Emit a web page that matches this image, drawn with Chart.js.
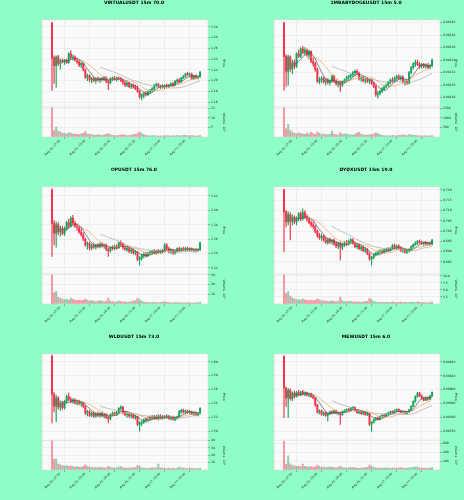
<!DOCTYPE html>
<html>
<head>
<meta charset="utf-8">
<script src="https://cdn.jsdelivr.net/npm/chart.js@4.4.1/dist/chart.umd.min.js"></script>
<style>
  html, body { margin: 0; padding: 0; background: #8ffdc6; }
  #wrap { position: relative; width: 464px; height: 500px; overflow: hidden; }
  canvas { position: absolute; }
</style>
</head>
<body>
<div id="wrap">
  <canvas id="c0" width="232" height="167" style="left:0;top:0"></canvas>
  <canvas id="c1" width="232" height="167" style="left:232px;top:0"></canvas>
  <canvas id="c2" width="232" height="167" style="left:0;top:167px"></canvas>
  <canvas id="c3" width="232" height="167" style="left:232px;top:167px"></canvas>
  <canvas id="c4" width="232" height="166" style="left:0;top:334px"></canvas>
  <canvas id="c5" width="232" height="166" style="left:232px;top:334px"></canvas>
</div>
<script>
// x tick positions (candle index) and their labels, 12 candles = 3h
const tickIdx = [0, 12, 24, 36, 48, 60, 72];
const timeLabels = ['Aug 16, 12:00', 'Aug 16, 15:00', 'Aug 16, 18:00', 'Aug 16, 21:00', 'Aug 17, 00:00', 'Aug 17, 03:00', ''];
const maWindows = [6, 12, 24];

// candles: [open, high, low, close]
const virtualCandles = [
  [1.307,1.309,1.182,1.242],[1.242,1.246,1.195,1.228],[1.228,1.246,1.188,1.244],[1.244,1.247,1.228,1.232],
  [1.232,1.240,1.222,1.237],[1.237,1.241,1.233,1.235],[1.235,1.240,1.230,1.238],[1.238,1.240,1.232,1.234],
  [1.234,1.252,1.232,1.250],[1.250,1.256,1.240,1.243],[1.243,1.248,1.238,1.244],[1.244,1.246,1.236,1.238],
  [1.238,1.242,1.232,1.235],[1.235,1.238,1.226,1.229],[1.229,1.234,1.224,1.232],[1.232,1.233,1.218,1.220],
  [1.220,1.222,1.204,1.206],[1.206,1.212,1.200,1.209],[1.209,1.211,1.198,1.202],[1.202,1.206,1.196,1.204],
  [1.204,1.206,1.198,1.200],[1.200,1.205,1.195,1.203],[1.203,1.207,1.199,1.201],[1.201,1.205,1.196,1.204],
  [1.204,1.206,1.199,1.202],[1.202,1.208,1.200,1.206],[1.206,1.207,1.196,1.198],[1.198,1.201,1.183,1.196],
  [1.196,1.205,1.194,1.204],[1.204,1.207,1.200,1.205],[1.205,1.208,1.201,1.203],[1.203,1.206,1.199,1.205],
  [1.205,1.207,1.202,1.204],[1.204,1.206,1.198,1.200],[1.200,1.203,1.193,1.196],[1.196,1.198,1.189,1.192],
  [1.192,1.197,1.189,1.195],[1.195,1.197,1.187,1.189],[1.189,1.193,1.185,1.191],[1.191,1.194,1.186,1.188],
  [1.188,1.192,1.183,1.185],[1.185,1.190,1.178,1.180],[1.180,1.182,1.167,1.170],[1.170,1.176,1.164,1.173],
  [1.173,1.178,1.168,1.176],[1.176,1.180,1.171,1.174],[1.174,1.181,1.172,1.179],[1.179,1.184,1.176,1.182],
  [1.182,1.187,1.179,1.185],[1.185,1.193,1.183,1.191],[1.191,1.196,1.188,1.193],[1.193,1.195,1.187,1.189],
  [1.189,1.192,1.185,1.190],[1.190,1.193,1.186,1.188],[1.188,1.192,1.185,1.191],[1.191,1.194,1.188,1.190],
  [1.190,1.193,1.187,1.192],[1.192,1.196,1.190,1.194],[1.194,1.197,1.189,1.191],[1.191,1.200,1.190,1.199],
  [1.199,1.203,1.196,1.201],[1.201,1.204,1.196,1.198],[1.198,1.206,1.197,1.205],[1.205,1.210,1.203,1.208],
  [1.208,1.214,1.206,1.213],[1.213,1.216,1.209,1.211],[1.211,1.214,1.207,1.212],[1.212,1.214,1.202,1.204],
  [1.204,1.210,1.202,1.208],[1.208,1.211,1.203,1.205],[1.205,1.209,1.203,1.207],[1.207,1.217,1.206,1.216]
];
const virtualVolume = [15.5,3.3,5.2,3.0,2.6,2.0,1.8,1.6,2.2,2.0,1.6,1.5,1.3,1.4,1.6,2.0,2.8,1.5,1.4,1.2,1.0,0.9,1.3,1.0,
  0.8,1.1,1.4,1.9,1.2,0.9,0.8,0.7,0.8,1.0,1.2,0.9,0.7,0.8,1.0,1.3,1.4,1.8,2.6,1.9,1.2,0.8,0.7,0.6,
  0.7,0.8,0.6,0.5,0.6,0.5,0.6,0.7,0.6,0.5,0.7,0.6,0.8,0.7,0.6,0.8,0.9,0.7,0.6,0.8,0.6,0.5,0.6,0.8];
const virtualPriceTicks = [1.16, 1.18, 1.20, 1.22, 1.24, 1.26, 1.28, 1.30];
const virtualVolTicks = [5, 10, 15];

const babyCandles = [
  [0.001399,0.001401,0.001292,0.001346],[0.001346,0.001349,0.001298,0.001322],[0.001322,0.001348,0.001300,0.001345],[0.001345,0.001347,0.001322,0.001326],
  [0.001326,0.001340,0.001318,0.001336],[0.001336,0.001340,0.001326,0.001330],[0.001330,0.001352,0.001328,0.001350],[0.001350,0.001356,0.001344,0.001346],
  [0.001346,0.001360,0.001344,0.001358],[0.001358,0.001362,0.001350,0.001352],[0.001352,0.001360,0.001348,0.001356],[0.001356,0.001358,0.001346,0.001348],
  [0.001348,0.001356,0.001342,0.001354],[0.001354,0.001355,0.001336,0.001338],[0.001338,0.001343,0.001330,0.001334],[0.001334,0.001337,0.001322,0.001325],
  [0.001325,0.001327,0.001304,0.001306],[0.001306,0.001312,0.001302,0.001309],[0.001309,0.001314,0.001304,0.001311],[0.001311,0.001313,0.001303,0.001305],
  [0.001305,0.001310,0.001300,0.001308],[0.001308,0.001311,0.001302,0.001304],[0.001304,0.001309,0.001300,0.001306],[0.001306,0.001316,0.001304,0.001314],
  [0.001314,0.001316,0.001304,0.001306],[0.001306,0.001309,0.001300,0.001302],[0.001302,0.001306,0.001297,0.001304],[0.001304,0.001306,0.001290,0.001300],
  [0.001300,0.001307,0.001298,0.001305],[0.001305,0.001310,0.001303,0.001308],[0.001308,0.001314,0.001306,0.001312],[0.001312,0.001316,0.001309,0.001314],
  [0.001314,0.001318,0.001310,0.001316],[0.001316,0.001322,0.001313,0.001320],[0.001320,0.001324,0.001316,0.001322],[0.001322,0.001325,0.001317,0.001319],
  [0.001319,0.001321,0.001308,0.001310],[0.001310,0.001314,0.001306,0.001312],[0.001312,0.001314,0.001305,0.001307],[0.001307,0.001311,0.001303,0.001309],
  [0.001309,0.001312,0.001304,0.001306],[0.001306,0.001310,0.001302,0.001308],[0.001308,0.001310,0.001301,0.001303],[0.001303,0.001305,0.001296,0.001298],
  [0.001298,0.001300,0.001282,0.001285],[0.001285,0.001290,0.001279,0.001287],[0.001287,0.001292,0.001284,0.001290],[0.001290,0.001296,0.001288,0.001294],
  [0.001294,0.001299,0.001291,0.001297],[0.001297,0.001302,0.001295,0.001300],[0.001300,0.001306,0.001298,0.001304],[0.001304,0.001310,0.001302,0.001308],
  [0.001308,0.001312,0.001304,0.001306],[0.001306,0.001313,0.001305,0.001311],[0.001311,0.001316,0.001308,0.001314],[0.001314,0.001317,0.001309,0.001311],
  [0.001311,0.001315,0.001308,0.001313],[0.001313,0.001315,0.001303,0.001305],[0.001305,0.001309,0.001300,0.001306],[0.001306,0.001308,0.001301,0.001303],
  [0.001303,0.001322,0.001302,0.001320],[0.001320,0.001330,0.001318,0.001328],[0.001328,0.001336,0.001326,0.001334],[0.001334,0.001340,0.001330,0.001336],
  [0.001336,0.001340,0.001331,0.001333],[0.001333,0.001336,0.001327,0.001330],[0.001330,0.001335,0.001327,0.001333],[0.001333,0.001335,0.001328,0.001330],
  [0.001330,0.001334,0.001327,0.001332],[0.001332,0.001335,0.001326,0.001328],[0.001328,0.001333,0.001326,0.001331],[0.001331,0.001342,0.001329,0.001340]
];
const babyVolume = [1550,430,660,350,260,200,170,220,180,160,140,200,150,250,180,140,260,200,120,150,130,110,140,300,
  150,120,100,230,140,160,150,120,110,100,130,200,240,150,110,100,90,120,130,150,220,180,120,80,
  70,60,70,60,80,70,60,90,80,110,90,70,120,110,100,80,70,60,50,60,70,50,60,70];
const babyPriceTicks = [0.00128, 0.00130, 0.00132, 0.00134, 0.00136, 0.00138, 0.00140];
const babyVolTicks = [500, 1000, 1500];

const opCandles = [
  [1.428,1.430,1.336,1.382],[1.382,1.386,1.352,1.368],[1.368,1.384,1.349,1.380],[1.380,1.383,1.366,1.370],
  [1.370,1.378,1.364,1.375],[1.375,1.378,1.366,1.368],[1.368,1.377,1.365,1.374],[1.374,1.385,1.372,1.383],
  [1.383,1.388,1.376,1.378],[1.378,1.391,1.377,1.389],[1.389,1.393,1.380,1.382],[1.382,1.385,1.376,1.378],
  [1.378,1.381,1.372,1.376],[1.376,1.378,1.368,1.370],[1.370,1.374,1.364,1.366],[1.366,1.369,1.358,1.360],
  [1.360,1.361,1.350,1.352],[1.352,1.356,1.346,1.354],[1.354,1.356,1.345,1.348],[1.348,1.353,1.345,1.351],
  [1.351,1.354,1.347,1.349],[1.349,1.353,1.346,1.352],[1.352,1.354,1.348,1.350],[1.350,1.355,1.348,1.353],
  [1.353,1.355,1.349,1.351],[1.351,1.354,1.347,1.352],[1.352,1.353,1.344,1.346],[1.346,1.348,1.336,1.344],
  [1.344,1.349,1.342,1.348],[1.348,1.351,1.345,1.347],[1.347,1.352,1.345,1.350],[1.350,1.352,1.346,1.348],
  [1.348,1.356,1.347,1.355],[1.355,1.358,1.351,1.353],[1.353,1.355,1.346,1.348],[1.348,1.351,1.344,1.346],
  [1.346,1.350,1.343,1.348],[1.348,1.349,1.341,1.343],[1.343,1.347,1.340,1.345],[1.345,1.347,1.339,1.341],
  [1.341,1.344,1.338,1.342],[1.342,1.343,1.330,1.332],[1.332,1.336,1.324,1.334],[1.334,1.339,1.331,1.337],
  [1.337,1.341,1.334,1.339],[1.339,1.342,1.335,1.337],[1.337,1.342,1.336,1.341],[1.341,1.344,1.338,1.342],
  [1.342,1.345,1.339,1.343],[1.343,1.346,1.340,1.341],[1.341,1.345,1.339,1.344],[1.344,1.346,1.341,1.342],
  [1.342,1.345,1.340,1.344],[1.344,1.346,1.341,1.343],[1.343,1.354,1.342,1.352],[1.352,1.354,1.345,1.347],
  [1.347,1.349,1.341,1.343],[1.343,1.347,1.340,1.345],[1.345,1.346,1.339,1.341],[1.341,1.345,1.339,1.343],
  [1.343,1.348,1.342,1.347],[1.347,1.349,1.343,1.345],[1.345,1.348,1.343,1.347],[1.347,1.349,1.344,1.346],
  [1.346,1.349,1.343,1.347],[1.347,1.349,1.344,1.345],[1.345,1.348,1.343,1.347],[1.347,1.348,1.343,1.344],
  [1.344,1.347,1.342,1.346],[1.346,1.347,1.342,1.344],[1.344,1.347,1.343,1.345],[1.345,1.356,1.344,1.355]
];
const opVolume = [30,11.6,12.9,7,6,5,4.5,5,4,6,5,4,3.5,4,3.5,4,5,4,3,3.5,3,2.5,3,3.5,
  2.8,2.5,3,6,3,2.5,2,2.2,3,2.5,2,2.2,1.8,2,2.5,3,3.5,6,4.5,3,2,1.8,1.5,1.6,
  1.4,1.8,1.5,1.3,1.6,2,2.5,1.8,1.5,1.3,1.2,1.4,1.6,1.3,1.2,1.1,1.3,1.5,1.2,1.0,1.1,1.2,1.3,2.0];
const opPriceTicks = [1.32, 1.34, 1.36, 1.38, 1.40, 1.42];
const opVolTicks = [10, 20, 30];

const dydxCandles = [
  [0.7200,0.7205,0.6900,0.7095],[0.7095,0.7100,0.7020,0.7045],[0.7045,0.7095,0.7030,0.7080],[0.7080,0.7090,0.6957,0.7048],
  [0.7048,0.7080,0.7030,0.7068],[0.7068,0.7075,0.7035,0.7045],[0.7045,0.7070,0.7030,0.7060],[0.7060,0.7090,0.7050,0.7085],
  [0.7085,0.7095,0.7050,0.7060],[0.7060,0.7108,0.7055,0.7090],[0.7090,0.7100,0.7060,0.7068],[0.7068,0.7080,0.7048,0.7058],
  [0.7058,0.7065,0.7035,0.7042],[0.7042,0.7050,0.7020,0.7030],[0.7030,0.7045,0.7012,0.7022],[0.7022,0.7030,0.6990,0.7000],
  [0.7000,0.7005,0.6970,0.6978],[0.6978,0.6990,0.6960,0.6968],[0.6968,0.6985,0.6955,0.6975],[0.6975,0.6980,0.6950,0.6958],
  [0.6958,0.6970,0.6940,0.6945],[0.6945,0.6965,0.6935,0.6958],[0.6958,0.6968,0.6940,0.6948],[0.6948,0.6960,0.6935,0.6955],
  [0.6955,0.6962,0.6930,0.6938],[0.6938,0.6950,0.6920,0.6928],[0.6928,0.6945,0.6915,0.6940],[0.6940,0.6948,0.6860,0.6922],
  [0.6922,0.6942,0.6910,0.6935],[0.6935,0.6950,0.6925,0.6942],[0.6942,0.6955,0.6930,0.6938],[0.6938,0.6958,0.6932,0.6950],
  [0.6950,0.6965,0.6942,0.6958],[0.6958,0.6962,0.6935,0.6940],[0.6940,0.6948,0.6920,0.6925],[0.6925,0.6940,0.6915,0.6932],
  [0.6932,0.6938,0.6910,0.6915],[0.6915,0.6930,0.6905,0.6922],[0.6922,0.6928,0.6900,0.6905],[0.6905,0.6920,0.6895,0.6910],
  [0.6910,0.6915,0.6885,0.6890],[0.6890,0.6895,0.6858,0.6865],[0.6865,0.6878,0.6835,0.6872],[0.6872,0.6890,0.6865,0.6885],
  [0.6885,0.6898,0.6878,0.6892],[0.6892,0.6905,0.6885,0.6898],[0.6898,0.6910,0.6890,0.6902],[0.6902,0.6910,0.6892,0.6897],
  [0.6897,0.6912,0.6893,0.6908],[0.6908,0.6918,0.6900,0.6912],[0.6912,0.6920,0.6902,0.6906],[0.6906,0.6920,0.6902,0.6915],
  [0.6915,0.6935,0.6910,0.6930],[0.6930,0.6938,0.6915,0.6920],[0.6920,0.6932,0.6912,0.6928],[0.6928,0.6935,0.6915,0.6918],
  [0.6918,0.6925,0.6900,0.6905],[0.6905,0.6915,0.6895,0.6910],[0.6910,0.6915,0.6893,0.6898],[0.6898,0.6910,0.6890,0.6905],
  [0.6905,0.6915,0.6898,0.6910],[0.6910,0.6928,0.6905,0.6925],[0.6925,0.6938,0.6920,0.6935],[0.6935,0.6948,0.6930,0.6942],
  [0.6942,0.6955,0.6935,0.6950],[0.6950,0.6958,0.6940,0.6945],[0.6945,0.6952,0.6935,0.6940],[0.6940,0.6948,0.6930,0.6945],
  [0.6945,0.6950,0.6932,0.6938],[0.6938,0.6945,0.6930,0.6942],[0.6942,0.6948,0.6932,0.6936],[0.6936,0.6960,0.6933,0.6957]
];
const dydxVolume = [10.5,3.8,4.4,2.8,2.2,1.8,1.5,1.6,1.4,1.8,1.5,1.3,1.2,1.4,1.2,1.3,1.8,1.5,1.1,1.2,1.0,0.9,1.0,1.1,
  0.9,0.8,1.0,2.4,1.1,0.9,0.8,0.9,1.0,0.8,0.7,0.8,0.7,0.6,0.8,0.9,1.0,2.0,1.5,0.9,0.7,0.6,0.5,0.6,
  0.5,0.7,0.6,0.5,0.8,0.6,0.5,0.6,0.7,0.5,0.6,0.5,0.6,0.7,0.6,0.5,0.8,0.6,0.5,0.6,0.5,0.4,0.5,0.7];
const dydxPriceTicks = [0.685, 0.690, 0.695, 0.700, 0.705, 0.710, 0.715, 0.720];
const dydxVolTicks = [2.5, 5.0, 7.5, 10.0];

const wldCandles = [
  [1.608,1.610,1.512,1.553],[1.553,1.556,1.528,1.536],[1.536,1.552,1.514,1.548],[1.548,1.550,1.532,1.535],
  [1.535,1.544,1.530,1.541],[1.541,1.543,1.532,1.534],[1.534,1.545,1.532,1.543],[1.543,1.552,1.541,1.550],
  [1.550,1.555,1.544,1.546],[1.546,1.549,1.541,1.543],[1.543,1.547,1.540,1.545],[1.545,1.547,1.539,1.541],
  [1.541,1.545,1.538,1.543],[1.543,1.545,1.538,1.540],[1.540,1.543,1.536,1.541],[1.541,1.542,1.534,1.536],
  [1.536,1.537,1.524,1.526],[1.526,1.530,1.522,1.528],[1.528,1.530,1.521,1.523],[1.523,1.528,1.521,1.526],
  [1.526,1.528,1.520,1.522],[1.522,1.527,1.520,1.525],[1.525,1.528,1.521,1.523],[1.523,1.527,1.520,1.526],
  [1.526,1.528,1.521,1.522],[1.522,1.526,1.519,1.524],[1.524,1.526,1.518,1.520],[1.520,1.522,1.512,1.518],
  [1.518,1.525,1.516,1.524],[1.524,1.528,1.522,1.526],[1.526,1.528,1.523,1.525],[1.525,1.529,1.523,1.527],
  [1.527,1.534,1.526,1.533],[1.533,1.537,1.530,1.535],[1.535,1.536,1.525,1.527],[1.527,1.529,1.522,1.524],
  [1.524,1.527,1.520,1.525],[1.525,1.526,1.520,1.522],[1.522,1.525,1.519,1.523],[1.523,1.525,1.518,1.520],
  [1.520,1.523,1.517,1.521],[1.521,1.522,1.508,1.510],[1.510,1.514,1.500,1.512],[1.512,1.515,1.508,1.513],
  [1.513,1.518,1.511,1.516],[1.516,1.519,1.513,1.518],[1.518,1.521,1.515,1.517],[1.517,1.522,1.516,1.520],
  [1.520,1.523,1.517,1.519],[1.519,1.523,1.517,1.521],[1.521,1.523,1.517,1.518],[1.518,1.524,1.516,1.522],
  [1.522,1.524,1.518,1.519],[1.519,1.523,1.517,1.521],[1.521,1.523,1.518,1.520],[1.520,1.524,1.518,1.522],
  [1.522,1.523,1.517,1.518],[1.518,1.522,1.516,1.520],[1.520,1.522,1.516,1.517],[1.517,1.521,1.515,1.520],
  [1.520,1.522,1.517,1.521],[1.521,1.530,1.520,1.528],[1.528,1.532,1.526,1.530],[1.530,1.532,1.526,1.528],
  [1.528,1.531,1.525,1.529],[1.529,1.531,1.526,1.527],[1.527,1.530,1.525,1.528],[1.528,1.529,1.524,1.525],
  [1.525,1.528,1.523,1.527],[1.527,1.528,1.523,1.524],[1.524,1.527,1.522,1.526],[1.526,1.534,1.525,1.533]
];
const wldVolume = [40,14.8,14.8,8,7,6,5.5,6,5,5.5,4.5,4,4.5,3.5,4,5,7,5,4,3.5,3,3.5,3,3.5,
  3,2.8,3,5,3.5,3,2.5,3,4,4.5,3,2.5,2.2,2.5,2.8,3,3.5,6.5,5,3,2.5,2.2,2,2.5,
  3,2.5,3,8,3,2.5,2.2,2,2.5,2,2.2,2,2.5,4,3,2.5,2.2,2,2.5,2.2,2,1.8,2,2.5];
const wldPriceTicks = [1.50, 1.52, 1.54, 1.56, 1.58, 1.60];
const wldVolTicks = [10, 20, 30, 40];

const mewCandles = [
  [0.006238,0.006245,0.005798,0.006012],[0.006012,0.006018,0.005880,0.005940],[0.005940,0.006010,0.005800,0.005995],[0.005995,0.006005,0.005925,0.005935],
  [0.005935,0.005985,0.005920,0.005975],[0.005975,0.005990,0.005940,0.005950],[0.005950,0.005990,0.005945,0.005980],[0.005980,0.005995,0.005955,0.005962],
  [0.005962,0.005990,0.005955,0.005985],[0.005985,0.005995,0.005960,0.005968],[0.005968,0.005985,0.005955,0.005978],[0.005978,0.005982,0.005955,0.005960],
  [0.005960,0.005975,0.005948,0.005970],[0.005970,0.005975,0.005945,0.005950],[0.005950,0.005962,0.005935,0.005940],[0.005940,0.005945,0.005880,0.005890],
  [0.005890,0.005895,0.005830,0.005838],[0.005838,0.005855,0.005825,0.005848],[0.005848,0.005852,0.005815,0.005822],[0.005822,0.005840,0.005812,0.005835],
  [0.005835,0.005840,0.005808,0.005815],[0.005815,0.005832,0.005775,0.005828],[0.005828,0.005845,0.005820,0.005840],[0.005840,0.005850,0.005826,0.005832],
  [0.005832,0.005852,0.005828,0.005848],[0.005848,0.005852,0.005826,0.005830],[0.005830,0.005840,0.005818,0.005835],[0.005835,0.005838,0.005750,0.005820],
  [0.005820,0.005845,0.005815,0.005842],[0.005842,0.005855,0.005835,0.005850],[0.005850,0.005862,0.005842,0.005858],[0.005858,0.005865,0.005848,0.005852],
  [0.005852,0.005872,0.005850,0.005868],[0.005868,0.005878,0.005860,0.005872],[0.005872,0.005875,0.005845,0.005850],[0.005850,0.005855,0.005828,0.005835],
  [0.005835,0.005848,0.005825,0.005842],[0.005842,0.005846,0.005822,0.005828],[0.005828,0.005842,0.005820,0.005838],[0.005838,0.005842,0.005815,0.005822],
  [0.005822,0.005835,0.005812,0.005830],[0.005830,0.005832,0.005740,0.005752],[0.005752,0.005770,0.005700,0.005765],[0.005765,0.005790,0.005760,0.005785],
  [0.005785,0.005800,0.005775,0.005795],[0.005795,0.005805,0.005780,0.005788],[0.005788,0.005812,0.005785,0.005808],[0.005808,0.005820,0.005800,0.005815],
  [0.005815,0.005825,0.005805,0.005812],[0.005812,0.005830,0.005808,0.005825],[0.005825,0.005838,0.005818,0.005832],[0.005832,0.005845,0.005825,0.005840],
  [0.005840,0.005848,0.005830,0.005835],[0.005835,0.005855,0.005832,0.005850],[0.005850,0.005862,0.005842,0.005858],[0.005858,0.005862,0.005840,0.005845],
  [0.005845,0.005852,0.005832,0.005838],[0.005838,0.005848,0.005830,0.005842],[0.005842,0.005845,0.005825,0.005830],[0.005830,0.005845,0.005826,0.005840],
  [0.005840,0.005858,0.005836,0.005855],[0.005855,0.005885,0.005850,0.005880],[0.005880,0.005920,0.005875,0.005915],[0.005915,0.005955,0.005910,0.005950],
  [0.005950,0.005980,0.005945,0.005975],[0.005975,0.005980,0.005950,0.005955],[0.005955,0.005962,0.005930,0.005938],[0.005938,0.005945,0.005918,0.005925],
  [0.005925,0.005945,0.005920,0.005940],[0.005940,0.005948,0.005925,0.005932],[0.005932,0.005958,0.005930,0.005955],[0.005955,0.005985,0.005950,0.005980]
];
const mewVolume = [650,133,318,140,100,90,80,85,75,130,80,70,65,75,60,70,110,80,60,65,55,60,70,60,
  55,50,60,90,55,50,45,50,60,55,50,45,40,45,50,55,60,110,80,60,50,45,40,45,
  40,50,45,40,50,45,40,50,55,45,40,45,50,55,60,70,65,50,45,40,45,40,45,55];
const mewPriceTicks = [0.0057, 0.0058, 0.0059, 0.0060, 0.0061, 0.0062];
const mewVolTicks = [200, 400, 600];

const UP = '#13a65a';
const DOWN = '#f2334b';
const UP_VOL = 'rgba(19,166,90,0.5)';
const DOWN_VOL = 'rgba(242,51,75,0.5)';
const MA_COLORS = ['#4b5563', '#f4a55a', '#a9a9ae'];
const FONT = 'DejaVu Sans';

// rolling mean of the close column, like the mav lines of the source chart
function movingAverage(candles, w) {
  const out = [];
  for (let i = w - 1; i < candles.length; i++) {
    let s = 0;
    for (let k = i - w + 1; k <= i; k++) s += candles[k][3];
    out.push({ x: i, y: s / w });
  }
  return out;
}

// plot face, frame and the line between price and volume panels
const panelFrame = {
  id: 'panelFrame',
  beforeDraw(chart) {
    const { ctx, chartArea: a } = chart;
    ctx.save();
    ctx.fillStyle = '#fafafa';
    ctx.fillRect(a.left, a.top, a.width, a.height);
    ctx.restore();
  },
  afterDraw(chart) {
    const { ctx, chartArea: a, scales } = chart;
    ctx.save();
    ctx.strokeStyle = '#d6d6d6';
    ctx.lineWidth = 0.6;
    ctx.strokeRect(a.left, a.top, a.width, a.height);
    ctx.beginPath();
    ctx.moveTo(a.left, scales.price.bottom);
    ctx.lineTo(a.right, scales.price.bottom);
    ctx.stroke();
    ctx.restore();
  }
};

function candleChart(id, title, candles, volumes, priceTicks, pMin, pMax, pDigits, volTicks, vMax, vDigits, volTitle) {
  const colors = candles.map(c => c[3] >= c[0] ? UP : DOWN);
  const volColors = candles.map(c => c[3] >= c[0] ? UP_VOL : DOWN_VOL);
  const wicks = candles.map((c, i) => ({ x: i, y: [c[2], c[1]] }));
  const bodies = candles.map((c, i) => ({ x: i, y: [c[0], c[3]] }));
  const vols = volumes.map((v, i) => ({ x: i, y: v }));
  const tickFont = { size: 3, family: FONT };

  const maSets = maWindows.map((w, k) => ({
    type: 'line',
    data: movingAverage(candles, w),
    borderColor: MA_COLORS[k],
    borderWidth: 0.7,
    pointRadius: 0,
    yAxisID: 'price',
    order: 0
  }));

  return new Chart(document.getElementById(id), {
    type: 'bar',
    data: {
      datasets: [
        ...maSets,
        { data: bodies, backgroundColor: colors, barThickness: 1.3, grouped: false, yAxisID: 'price', order: 2 },
        { data: wicks, backgroundColor: colors, barThickness: 0.5, grouped: false, yAxisID: 'price', order: 3 },
        { data: vols, backgroundColor: volColors, barThickness: 1.3, grouped: false, yAxisID: 'vol', order: 4 }
      ]
    },
    options: {
      responsive: false,
      animation: false,
      layout: { padding: { left: 42, right: 6, top: 0, bottom: 0 } },
      plugins: {
        legend: { display: false },
        tooltip: { enabled: false },
        title: {
          display: true,
          text: title,
          color: '#000',
          font: { size: 4.5, weight: 'bold', family: FONT },
          padding: { top: 0.5, bottom: 14 }
        }
      },
      scales: {
        x: {
          type: 'linear',
          min: -4.8,
          max: 74.8,
          offset: false,
          afterBuildTicks: s => { s.ticks = tickIdx.map(v => ({ value: v })); },
          afterFit: s => { s.height = 30; },
          grid: { color: '#e3e3e3', lineWidth: 0.5, tickLength: 2, tickColor: '#555' },
          border: { display: false },
          ticks: {
            autoSkip: false,
            maxRotation: 45,
            minRotation: 45,
            labelOffset: 8,
            padding: 0,
            color: '#222',
            font: tickFont,
            callback: (v, i) => timeLabels[i] || ''
          }
        },
        price: {
          type: 'linear',
          position: 'right',
          stack: 'panel',
          stackWeight: 87,
          min: pMin,
          max: pMax,
          afterBuildTicks: s => { s.ticks = priceTicks.map(v => ({ value: v })); },
          afterFit: s => { s.width = 18; },
          grid: { color: '#e3e3e3', lineWidth: 0.5, tickLength: 2, tickColor: '#555' },
          border: { display: false },
          ticks: { padding: 1, color: '#222', font: tickFont, callback: v => v.toFixed(pDigits) },
          title: { display: true, text: 'Price', color: '#222', font: { size: 3.2, family: FONT }, padding: 0 }
        },
        vol: {
          type: 'linear',
          position: 'right',
          stack: 'panel',
          stackWeight: 30,
          min: 0,
          max: vMax,
          afterBuildTicks: s => { s.ticks = volTicks.map(v => ({ value: v })); },
          afterFit: s => { s.width = 18; },
          grid: { color: '#e3e3e3', lineWidth: 0.5, tickLength: 2, tickColor: '#555' },
          border: { display: false },
          ticks: { padding: 1, color: '#222', font: tickFont, callback: v => v.toFixed(vDigits) },
          title: { display: true, text: volTitle, color: '#222', font: { size: 3.2, family: FONT }, padding: 0 }
        }
      }
    },
    plugins: [panelFrame]
  });
}

candleChart('c0', 'VIRTUALUSDT 15m 70.0', virtualCandles, virtualVolume, virtualPriceTicks, 1.151, 1.313, 2, virtualVolTicks, 15.6, 0, 'Volume  10⁵');
candleChart('c1', '1MBABYDOGEUSDT 15m 5.0', babyCandles, babyVolume, babyPriceTicks, 0.001265, 0.0014043, 5, babyVolTicks, 1560, 0, 'Volume  10⁶');
candleChart('c2', 'OPUSDT 15m 76.0', opCandles, opVolume, opPriceTicks, 1.3117, 1.4325, 2, opVolTicks, 31, 0, 'Volume  10⁴');
candleChart('c3', 'DYDXUSDT 15m 19.0', dydxCandles, dydxVolume, dydxPriceTicks, 0.67917, 0.7215, 3, dydxVolTicks, 10.7, 1, 'Volume  10⁵');
candleChart('c4', 'WLDUSDT 15m 73.0', wldCandles, wldVolume, wldPriceTicks, 1.4871, 1.6114, 2, wldVolTicks, 40.5, 0, 'Volume  10⁴');
candleChart('c5', 'MEWUSDT 15m 6.0', mewCandles, mewVolume, mewPriceTicks, 0.005636, 0.006257, 5, mewVolTicks, 667, 0, 'Volume  10⁵');
</script>
</body>
</html>
